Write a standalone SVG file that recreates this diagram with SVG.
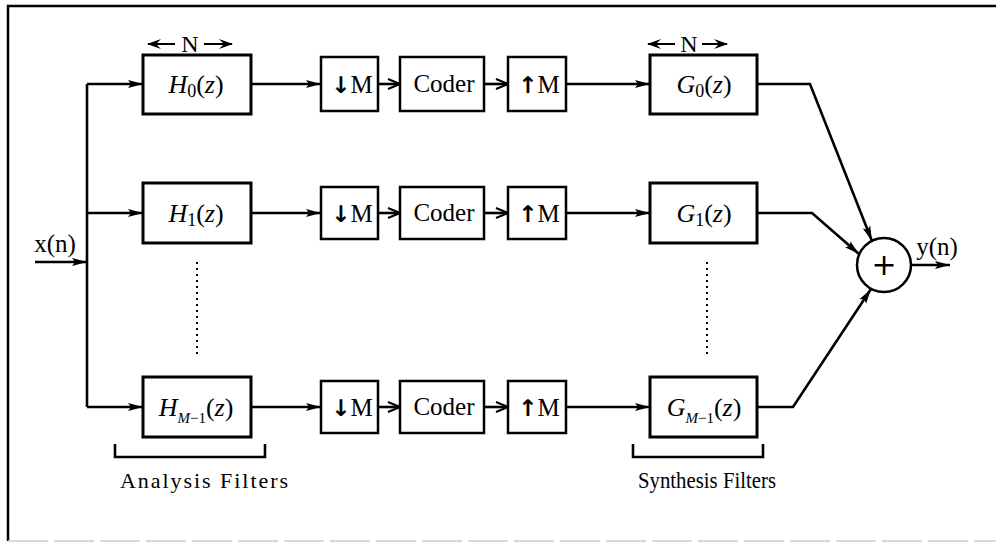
<svg xmlns="http://www.w3.org/2000/svg" width="996" height="544" viewBox="0 0 996 544">
<style>
text{font-family:"Liberation Serif","Times New Roman",serif;fill:#000}
.big{font-size:26px}
.sm{font-size:25px}
.it{font-style:italic}
.box{fill:#fff;stroke:#000;stroke-width:3}
.sbox{fill:#fff;stroke:#000;stroke-width:2.5}
.ln{fill:none;stroke:#000;stroke-width:2.6}
.arr{font-family:"DejaVu Sans",sans-serif;font-weight:bold;font-size:23px}
</style>
<defs>
<marker id="fa" markerWidth="16" markerHeight="10" refX="15" refY="5" orient="auto" markerUnits="userSpaceOnUse"><path d="M0,1 L15,5 L0,9 L3,5 z" fill="#000"/></marker>
<marker id="oa" markerWidth="14" markerHeight="12" refX="13" refY="6" orient="auto" markerUnits="userSpaceOnUse"><path d="M1,1 L13,6 L1,11" fill="none" stroke="#000" stroke-width="2"/></marker>
<marker id="na" markerWidth="14" markerHeight="10" refX="13" refY="5" orient="auto" markerUnits="userSpaceOnUse"><path d="M0,0 L14,5 L0,10 L5,5 z" fill="#000"/></marker>
</defs>
<rect width="996" height="544" fill="#fff"/>
<g id="frame">
<path d="M8,541 L8,6 L996,6" fill="none" stroke="#000" stroke-width="2.5"/>
<line x1="8" y1="541" x2="996" y2="541" stroke="#ccc" stroke-width="1.5" stroke-dasharray="40,6"/>
</g>
<g id="connectors">
<line class="ln" x1="35" y1="262" x2="87" y2="262" marker-end="url(#fa)"/>
<line class="ln" x1="87" y1="84" x2="87" y2="407"/>
<line class="ln" x1="87" y1="84" x2="143" y2="84" marker-end="url(#fa)"/>
<line class="ln" x1="87" y1="213" x2="143" y2="213" marker-end="url(#fa)"/>
<line class="ln" x1="87" y1="407" x2="143" y2="407" marker-end="url(#fa)"/>
<line class="ln" x1="251" y1="84" x2="321" y2="84" marker-end="url(#fa)"/>
<line class="ln" x1="251" y1="213" x2="321" y2="213" marker-end="url(#fa)"/>
<line class="ln" x1="251" y1="407" x2="321" y2="407" marker-end="url(#fa)"/>
<line class="ln" x1="378" y1="84" x2="400" y2="84" marker-end="url(#oa)"/>
<line class="ln" x1="378" y1="213" x2="400" y2="213" marker-end="url(#oa)"/>
<line class="ln" x1="378" y1="407" x2="400" y2="407" marker-end="url(#oa)"/>
<line class="ln" x1="484" y1="84" x2="508" y2="84" marker-end="url(#oa)"/>
<line class="ln" x1="484" y1="213" x2="508" y2="213" marker-end="url(#oa)"/>
<line class="ln" x1="484" y1="407" x2="508" y2="407" marker-end="url(#oa)"/>
<line class="ln" x1="566" y1="84" x2="650" y2="84" marker-end="url(#fa)"/>
<line class="ln" x1="566" y1="213" x2="650" y2="213" marker-end="url(#fa)"/>
<line class="ln" x1="566" y1="407" x2="650" y2="407" marker-end="url(#fa)"/>
<polyline class="ln" points="757,84 810,84 872,241" marker-end="url(#fa)"/>
<polyline class="ln" points="757,213 812,213 859,254" marker-end="url(#fa)"/>
<polyline class="ln" points="757,407 793,407 871,289" marker-end="url(#fa)"/>
<line class="ln" x1="911" y1="265" x2="950" y2="265" marker-end="url(#fa)"/>
<line x1="197" y1="262" x2="197" y2="356" stroke="#000" stroke-width="2" stroke-dasharray="2,4"/>
<line x1="707" y1="262" x2="707" y2="356" stroke="#000" stroke-width="2" stroke-dasharray="2,4"/>
</g>
<g id="dimN1">
<line x1="175" y1="44" x2="148" y2="44" stroke="#000" stroke-width="2" marker-end="url(#na)"/>
<text x="190" y="52" font-size="24" text-anchor="middle">N</text>
<line x1="204" y1="44" x2="232" y2="44" stroke="#000" stroke-width="2" marker-end="url(#na)"/>
</g>
<g id="dimN2">
<line x1="675" y1="44" x2="648" y2="44" stroke="#000" stroke-width="2" marker-end="url(#na)"/>
<text x="689" y="52" font-size="24" text-anchor="middle">N</text>
<line x1="702" y1="44" x2="727" y2="44" stroke="#000" stroke-width="2" marker-end="url(#na)"/>
</g>
<g id="H0"><rect class="box" x="143" y="55" width="108" height="59"/>
<text x="196" y="93" class="big" text-anchor="middle"><tspan class="it">H</tspan><tspan font-size="18" dy="4">0</tspan><tspan dy="-4">(</tspan><tspan class="it">z</tspan>)</text></g>
<g id="H1"><rect class="box" x="143" y="183" width="108" height="60"/>
<text x="196" y="222" class="big" text-anchor="middle"><tspan class="it">H</tspan><tspan font-size="18" dy="4">1</tspan><tspan dy="-4">(</tspan><tspan class="it">z</tspan>)</text></g>
<g id="HM1"><rect class="box" x="143" y="377" width="108" height="60"/>
<text x="196" y="416" class="big" text-anchor="middle"><tspan class="it">H</tspan><tspan font-size="15" dy="7" class="it">M</tspan><tspan font-size="15">−1</tspan><tspan dy="-7">(</tspan><tspan class="it">z</tspan>)</text></g>
<g id="D0"><rect class="sbox" x="321" y="57" width="57" height="54"/><text x="352" y="93" class="sm" text-anchor="middle"><tspan class="arr">↓</tspan>M</text></g>
<g id="D1"><rect class="sbox" x="321" y="187" width="57" height="52"/><text x="352" y="222" class="sm" text-anchor="middle"><tspan class="arr">↓</tspan>M</text></g>
<g id="D2"><rect class="sbox" x="321" y="381" width="57" height="52"/><text x="352" y="416" class="sm" text-anchor="middle"><tspan class="arr">↓</tspan>M</text></g>
<g id="C0"><rect class="sbox" x="400" y="57" width="84" height="54"/><text x="444" y="92" class="sm" text-anchor="middle">Coder</text></g>
<g id="C1"><rect class="sbox" x="400" y="187" width="84" height="52"/><text x="444" y="221" class="sm" text-anchor="middle">Coder</text></g>
<g id="C2"><rect class="sbox" x="400" y="381" width="84" height="52"/><text x="444" y="415" class="sm" text-anchor="middle">Coder</text></g>
<g id="U0"><rect class="sbox" x="508" y="57" width="58" height="54"/><text x="539" y="93" class="sm" text-anchor="middle"><tspan class="arr">↑</tspan>M</text></g>
<g id="U1"><rect class="sbox" x="508" y="187" width="58" height="52"/><text x="539" y="222" class="sm" text-anchor="middle"><tspan class="arr">↑</tspan>M</text></g>
<g id="U2"><rect class="sbox" x="508" y="381" width="58" height="52"/><text x="539" y="416" class="sm" text-anchor="middle"><tspan class="arr">↑</tspan>M</text></g>
<g id="G0"><rect class="box" x="650" y="55" width="107" height="59"/>
<text x="704" y="93" class="big" text-anchor="middle"><tspan class="it">G</tspan><tspan font-size="18" dy="4">0</tspan><tspan dy="-4">(</tspan><tspan class="it">z</tspan>)</text></g>
<g id="G1"><rect class="box" x="650" y="183" width="107" height="60"/>
<text x="704" y="222" class="big" text-anchor="middle"><tspan class="it">G</tspan><tspan font-size="18" dy="4">1</tspan><tspan dy="-4">(</tspan><tspan class="it">z</tspan>)</text></g>
<g id="GM1"><rect class="box" x="650" y="377" width="107" height="60"/>
<text x="704" y="416" class="big" text-anchor="middle"><tspan class="it">G</tspan><tspan font-size="15" dy="7" class="it">M</tspan><tspan font-size="15">−1</tspan><tspan dy="-7">(</tspan><tspan class="it">z</tspan>)</text></g>
<g id="sum"><circle cx="884" cy="265" r="27" fill="#fff" stroke="#000" stroke-width="2.5"/>
<text x="884" y="275" font-size="30" text-anchor="middle" style="font-family:'DejaVu Sans',sans-serif">+</text></g>
<g id="xin"><text x="55" y="252" font-size="25" text-anchor="middle">x(n)</text></g>
<g id="yout"><text x="937" y="255" font-size="25" text-anchor="middle">y(n)</text></g>
<g id="analysis"><path class="ln" d="M115,444 V457 H265 V444" stroke-width="2"/>
<text x="120" y="488" font-size="22" textLength="168" lengthAdjust="spacing">Analysis Filters</text></g>
<g id="synthesis"><path class="ln" d="M633,444 V457 H763 V444" stroke-width="2"/>
<text x="638" y="488" font-size="23" textLength="138" lengthAdjust="spacingAndGlyphs">Synthesis Filters</text></g>
</svg>
